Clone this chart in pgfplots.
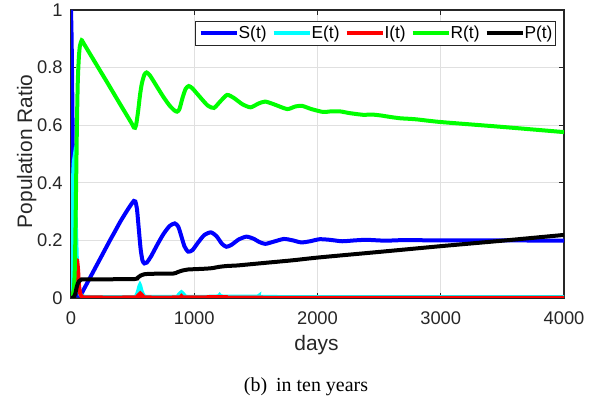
\documentclass[border=0pt]{standalone}
\usepackage{fontspec}
\setmainfont{Liberation Sans}
\newfontfamily\capfont{Liberation Serif}
\usepackage{pgfplots}
\pgfplotsset{compat=1.18}
\definecolor{axgray}{gray}{0.15}
\definecolor{gridgray}{gray}{0.88}
\definecolor{mblue}{rgb}{0,0,1}
\definecolor{mcyan}{rgb}{0,1,1}
\definecolor{mred}{rgb}{1,0,0}
\definecolor{mgreen}{rgb}{0,1,0}
\begin{document}
\begin{tikzpicture}
\begin{axis}[name=ax, scale only axis, width=246.5bp, height=144bp,
  xmin=0, xmax=4000, ymin=0, ymax=1,
  xtick={0,1000,2000,3000,4000}, xticklabels={0,1000,2000,3000,4000},
  ytick={0,0.2,0.4,0.6,0.8,1}, yticklabels={0,0.2,0.4,0.6,0.8,1},
  tick align=inside, major tick length=2.5bp,
  tick style={axgray, line width=0.6bp},
  axis line style={axgray, line width=0.6bp},
  grid=major, grid style={gridgray, line width=0.5bp},
  x tick label style={font=\fontsize{9.2}{11}\selectfont, text=axgray, anchor=base, yshift=-13bp, inner sep=0pt},
  y tick label style={font=\fontsize{9.2}{11}\selectfont, text=axgray, anchor=east, xshift=-4bp, inner sep=0pt},
  xlabel={days}, ylabel={Population Ratio},
  xlabel style={font=\fontsize{10.5}{12}\selectfont, text=axgray, at={(axis description cs:0.498,-0.184)}, anchor=base},
  ylabel style={font=\fontsize{10.5}{12}\selectfont, text=axgray, at={(axis description cs:-0.09,0.509)}, anchor=center},
  legend columns=5,
  legend style={at={(1,1)}, anchor=north east, xshift=-4bp, yshift=-5.5bp,
    draw=axgray, line width=0.5bp, fill=white,
    font=\fontsize{8.7}{10}\selectfont, inner xsep=1.5bp, inner ysep=1bp,
    nodes={inner xsep=0bp, inner ysep=1bp},
    /tikz/every even column/.append style={column sep=2.5bp},
    /tikz/every odd column/.append style={column sep=0bp}},
  legend image code/.code={\draw[#1, line width=2bp] (0bp,0bp) -- (18bp,0bp);},
  every axis plot/.append style={line width=2bp, smooth, tension=0.4},
]
\addplot[mblue] coordinates {
(0,1) (5,0.9) (10,0.72) (15,0.5) (20,0.3) (25,0.15) (30,0.07) (40,0.02) (55,0.008) (70,0.008) (85,0.015) (100,0.027) (150,0.067) (200,0.107) (250,0.147) (316,0.2) (350,0.226) (400,0.265) (450,0.3) (490,0.326) (510,0.337) (522,0.335) (535,0.31) (550,0.24) (565,0.17) (580,0.13) (595,0.12) (615,0.123) (650,0.145) (700,0.185) (750,0.222) (800,0.25) (842,0.259) (870,0.248) (895,0.215) (920,0.18) (950,0.161) (985,0.166) (1030,0.192) (1080,0.218) (1134,0.228) (1180,0.215) (1225,0.188) (1261,0.178) (1300,0.184) (1360,0.203) (1423,0.213) (1480,0.206) (1530,0.194) (1577,0.188) (1640,0.195) (1727,0.205) (1800,0.2) (1868,0.193) (1940,0.197) (2016,0.204) (2100,0.202) (2200,0.197) (2300,0.2) (2400,0.202) (2550,0.199) (2700,0.201) (3000,0.2) (3500,0.2) (4000,0.199)
};
\addlegendentry{S(t)}
\addplot[mcyan] coordinates {
(0,0) (5,0.12) (10,0.28) (18,0.43) (25,0.48) (32,0.42) (40,0.25) (50,0.1) (60,0.04) (75,0.012) (100,0.005) (200,0.003) (500,0.003) (530,0.008) (545,0.025) (559,0.045) (572,0.025) (590,0.008) (620,0.004) (850,0.004) (875,0.012) (896,0.02) (915,0.012) (945,0.004) (1180,0.005) (1206,0.01) (1235,0.005) (1500,0.005) (1520,0.006) (1550,0.004) (2000,0.003) (4000,0.003)
};
\addlegendentry{E(t)}
\addplot[mred] coordinates {
(0,0) (15,0.01) (25,0.03) (35,0.08) (45,0.125) (50,0.13) (57,0.1) (65,0.045) (75,0.015) (90,0.005) (120,0.002) (520,0.002) (540,0.006) (562,0.016) (582,0.007) (610,0.002) (870,0.002) (896,0.006) (925,0.002) (1206,0.003) (1250,0.001) (4000,0.0005)
};
\addlegendentry{I(t)}
\addplot[mgreen] coordinates {
(0,0) (15,0.01) (25,0.04) (32,0.12) (40,0.35) (48,0.6) (55,0.75) (63,0.83) (72,0.875) (87,0.895) (100,0.886) (200,0.815) (300,0.744) (400,0.672) (490,0.608) (510,0.592) (520,0.591) (530,0.605) (545,0.65) (560,0.705) (575,0.745) (595,0.775) (613,0.783) (640,0.773) (700,0.732) (750,0.698) (800,0.668) (840,0.651) (861,0.647) (880,0.656) (905,0.695) (930,0.726) (955,0.736) (985,0.728) (1050,0.696) (1110,0.668) (1160,0.66) (1210,0.682) (1266,0.705) (1320,0.695) (1390,0.673) (1457,0.662) (1520,0.675) (1576,0.682) (1650,0.672) (1754,0.656) (1820,0.665) (1876,0.667) (1950,0.656) (2045,0.646) (2110,0.648) (2182,0.648) (2260,0.642) (2372,0.636) (2440,0.637) (2510,0.634) (2600,0.628) (2672,0.624) (2750,0.622) (2810,0.62) (3000,0.611) (3500,0.594) (4000,0.576)
};
\addlegendentry{R(t)}
\addplot[black] coordinates {
(0,0) (20,0.002) (35,0.015) (45,0.035) (55,0.05) (65,0.058) (80,0.063) (100,0.065) (300,0.065) (520,0.066) (540,0.07) (565,0.078) (590,0.082) (640,0.084) (830,0.085) (860,0.089) (900,0.095) (950,0.099) (1000,0.1) (1100,0.102) (1150,0.104) (1200,0.108) (1260,0.111) (1350,0.113) (1450,0.117) (1600,0.123) (1800,0.131) (2016,0.141) (2500,0.16) (3000,0.18) (3500,0.199) (4000,0.219)
};
\addlegendentry{P(t)}
\end{axis}
\node[anchor=base, font=\capfont\fontsize{10}{12}\selectfont] at ([xshift=117.5bp, yshift=-46.5bp]ax.south west) {(b)\hspace{4.5bp}in ten years};
\path ([xshift=-35.5bp, yshift=-50bp]ax.south west) rectangle ([xshift=16bp, yshift=5bp]ax.north east);
\end{tikzpicture}
\end{document}
